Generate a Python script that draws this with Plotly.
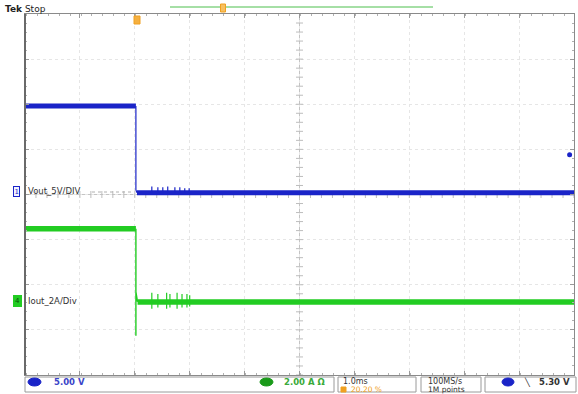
import plotly.graph_objects as go
import numpy as np

# ---------------- data (scope record) ----------------
# time in ms relative to trigger, 1 ms/div, trigger at 20.2 % of screen
T_MIN, T_MAX = -2.02, 7.98
V_PER_DIV, V_OFFSET_DIV = 5.0, 0.04     # CH1 Vout
A_PER_DIV, A_OFFSET_DIV = 2.0, -2.38    # CH4 Iout

vout_t = [-2.02, 0.0, 0.0, 0.02, 7.98]
vout_v = [9.6, 9.6, 0.3, 0.0, 0.0]
vout_spike_t = [0.29, 0.40, 0.49, 0.58, 0.71, 0.80, 0.89, 0.97]
vout_spike_v = [0.7, 0.6, 0.6, 0.7, 0.6, 0.6, 0.5, 0.5]

iout_t = [-2.02, 0.0, 0.0, 0.0, 0.03, 7.98]
iout_a = [3.24, 3.24, -1.5, 0.45, 0.0, 0.0]
iout_spike_t = [0.29, 0.40, 0.56, 0.62, 0.75, 0.84, 0.93, 0.98]
iout_spike_hi = [0.40, 0.35, 0.40, 0.35, 0.40, 0.35, 0.35, 0.30]
iout_spike_lo = [-0.30, -0.25, -0.30, -0.25, -0.30, -0.25, -0.25, -0.20]

trig_level_div = 0.88

BLUE = "#1a24c8"
GREEN = "#22cc22"
ORANGE = "#f0a020"
FONT = "DejaVu Sans"

W, H = 578, 394
L, R, T, B = 25, 4, 14, 19
PW, PH = W - L - R, H - T - B


def px(x):
    return (x - L) / PW


def py(y):
    return (H - B - y) / PH


def vdiv(v):
    return [None if a is None else a / V_PER_DIV + V_OFFSET_DIV for a in v]


def adiv(a):
    return [None if b is None else b / A_PER_DIV + A_OFFSET_DIV for b in a]


def spikes(ts, tops, bots):
    xs, ys = [], []
    for t, a, b in zip(ts, tops, bots):
        xs += [t, t, None]
        ys += [b, a, None]
    return xs, ys


def text(x, y, s, size=8.5, color="#333333", anchor="left", **kw):
    d = dict(x=px(x), y=py(y), xref="paper", yref="paper", text=s, showarrow=False,
             xanchor=anchor, yanchor="middle", font=dict(family=FONT, size=size, color=color))
    d.update(kw)
    return d


def box(x0, x1, y0, y1, line, fill, width=1.0, kind="rect"):
    return dict(type=kind, xref="paper", yref="paper", x0=px(x0), x1=px(x1),
                y0=py(y1), y1=py(y0), line=dict(color=line, width=width), fillcolor=fill,
                layer="above")


fig = go.Figure()
shapes = []
ann = []

# graticule centre lines with minor ticks
xc = (T_MIN + T_MAX) / 2
shapes.append(dict(type="line", x0=xc, x1=xc, y0=-4, y1=4, xref="x", yref="y",
                   line=dict(color="#c4c4c4", width=1), layer="below"))
shapes.append(dict(type="line", x0=T_MIN, x1=T_MAX, y0=0, y1=0, xref="x", yref="y",
                   line=dict(color="#c4c4c4", width=1), layer="below"))
yt = np.arange(-4, 4.001, 0.2)
fig.add_trace(go.Scatter(x=[xc] * len(yt), y=yt, mode="markers", hoverinfo="skip",
                         marker=dict(symbol="line-ew", size=5, line=dict(color="#bdbdbd", width=1)),
                         showlegend=False))
xt = np.arange(T_MIN, T_MAX + 0.001, 0.2)
fig.add_trace(go.Scatter(x=xt, y=[0] * len(xt), mode="markers", hoverinfo="skip",
                         marker=dict(symbol="line-ns", size=5, line=dict(color="#bdbdbd", width=1)),
                         showlegend=False))

# ---- CH1 Vout ----
vy = vdiv(vout_v)
fig.add_trace(go.Scatter(x=vout_t[1:4], y=vy[1:4], mode="lines",
                         line=dict(color=BLUE, width=1.2), showlegend=False))
fig.add_trace(go.Scatter(x=vout_t[0:2], y=vy[0:2], mode="lines",
                         line=dict(color=BLUE, width=5), showlegend=False))
fig.add_trace(go.Scatter(x=vout_t[3:5], y=vy[3:5], mode="lines",
                         line=dict(color=BLUE, width=5), showlegend=False))
sx, sy = spikes(vout_spike_t, vout_spike_v, [0.0] * len(vout_spike_t))
fig.add_trace(go.Scatter(x=sx, y=vdiv(sy), mode="lines",
                         line=dict(color=BLUE, width=1.2), showlegend=False))

# ---- CH4 Iout ----
iy = adiv(iout_a)
fig.add_trace(go.Scatter(x=iout_t[1:5], y=iy[1:5], mode="lines",
                         line=dict(color=GREEN, width=1.4), showlegend=False))
fig.add_trace(go.Scatter(x=iout_t[0:2], y=iy[0:2], mode="lines",
                         line=dict(color=GREEN, width=5.5), showlegend=False))
fig.add_trace(go.Scatter(x=iout_t[4:6], y=iy[4:6], mode="lines",
                         line=dict(color=GREEN, width=5.5), showlegend=False))
sx, sy = spikes(iout_spike_t, iout_spike_hi, iout_spike_lo)
fig.add_trace(go.Scatter(x=sx, y=adiv(sy), mode="lines",
                         line=dict(color=GREEN, width=1.2), showlegend=False))

# trigger level marker at right edge
fig.add_trace(go.Scatter(x=[T_MAX - 0.08], y=[trig_level_div], mode="markers",
                         marker=dict(color=BLUE, size=5, symbol="circle"),
                         showlegend=False, cliponaxis=False))

# dotted ground line after ch1 label
shapes.append(dict(type="line", xref="paper", yref="paper", x0=px(92), x1=px(134),
                   y0=py(192), y1=py(192), line=dict(color="#b0b0b0", width=1, dash="dot")))

# channel labels
ann.append(text(16.5, 191.5, "1", size=7, color=BLUE, anchor="center",
                bordercolor=BLUE, borderwidth=1, borderpad=0.5, bgcolor="#f2f3ff"))
ann.append(text(26, 191, "Vout_5V/DIV"))
ann.append(text(17.5, 300.5, "4", size=7, color="#0a500a", anchor="center",
                bordercolor=GREEN, borderwidth=1, borderpad=1, bgcolor=GREEN))
ann.append(text(26, 301, "Iout_2A/Div"))

# top status
ann.append(text(3, 8.5, "<b>Tek</b> Stop", size=9, color="#222222"))
shapes.append(dict(type="line", xref="paper", yref="paper", x0=px(170), x1=px(433),
                   y0=py(7), y1=py(7), line=dict(color="#4cbf4c", width=1)))
shapes.append(box(220.5, 225.5, 4, 12, ORANGE, "#f7c060"))
shapes.append(box(134, 140, 16, 24, ORANGE, "#f5b040"))

# bottom readout boxes
for x0, x1 in [(25, 334), (338, 416), (421, 481), (485, 576)]:
    shapes.append(box(x0, x1, 377, 392, "#9a9a9a", "rgba(0,0,0,0)"))
shapes.append(box(28, 41, 378, 386, BLUE, BLUE, kind="circle"))
ann.append(text(52, 382, "<b>5.00 V</b>", color="#3a44c8"))
shapes.append(box(260, 273, 378, 386, "#1a9a1a", "#1a9a1a", kind="circle"))
ann.append(text(282, 382, "<b>2.00 A Ω</b>", color="#3aaa3a"))
ann.append(text(341, 381.5, "1.0ms", size=8))
shapes.append(box(341, 346, 387, 392, ORANGE, ORANGE))
ann.append(text(349, 389.5, "20.20 %", size=7.5, color=ORANGE))
ann.append(text(426, 381.5, "100MS/s", size=8))
ann.append(text(426, 389.5, "1M points", size=7.5))
shapes.append(box(502, 514, 378, 386, BLUE, BLUE, kind="circle"))
ann.append(text(527, 382, "<b>╲</b>", size=8, color="#222222", anchor="center"))
ann.append(text(572, 382, "<b>5.30 V</b>", anchor="right"))

# darker left frame edge
shapes.append(dict(type="line", xref="paper", yref="paper", x0=0, x1=0, y0=0, y1=1,
                   line=dict(color="#6a6a6a", width=2)))

fig.update_layout(
    width=W, height=H,
    margin=dict(l=L, r=R, t=T, b=B),
    paper_bgcolor="white", plot_bgcolor="white",
    shapes=shapes, annotations=ann, showlegend=False,
    xaxis=dict(range=[T_MIN, T_MAX], tick0=T_MIN, dtick=1, showticklabels=False,
               showgrid=True, gridcolor="#e6e6e6", griddash="dot", zeroline=False,
               showline=True, linecolor="#8a8a8a", linewidth=1, mirror="allticks",
               ticks="inside", ticklen=4, tickcolor="#9a9a9a",
               minor=dict(dtick=0.2, ticks="inside", ticklen=2, tickcolor="#b0b0b0", showgrid=False)),
    yaxis=dict(range=[-4, 4], tick0=-4, dtick=1, showticklabels=False,
               showgrid=True, gridcolor="#e6e6e6", griddash="dot", zeroline=False,
               showline=True, linecolor="#8a8a8a", linewidth=1, mirror="allticks",
               ticks="inside", ticklen=4, tickcolor="#9a9a9a",
               minor=dict(dtick=0.2, ticks="inside", ticklen=2, tickcolor="#b0b0b0", showgrid=False)),
)

fig.write_html("out.html", config={"displayModeBar": False},
               post_script="document.body.style.margin='0';")
